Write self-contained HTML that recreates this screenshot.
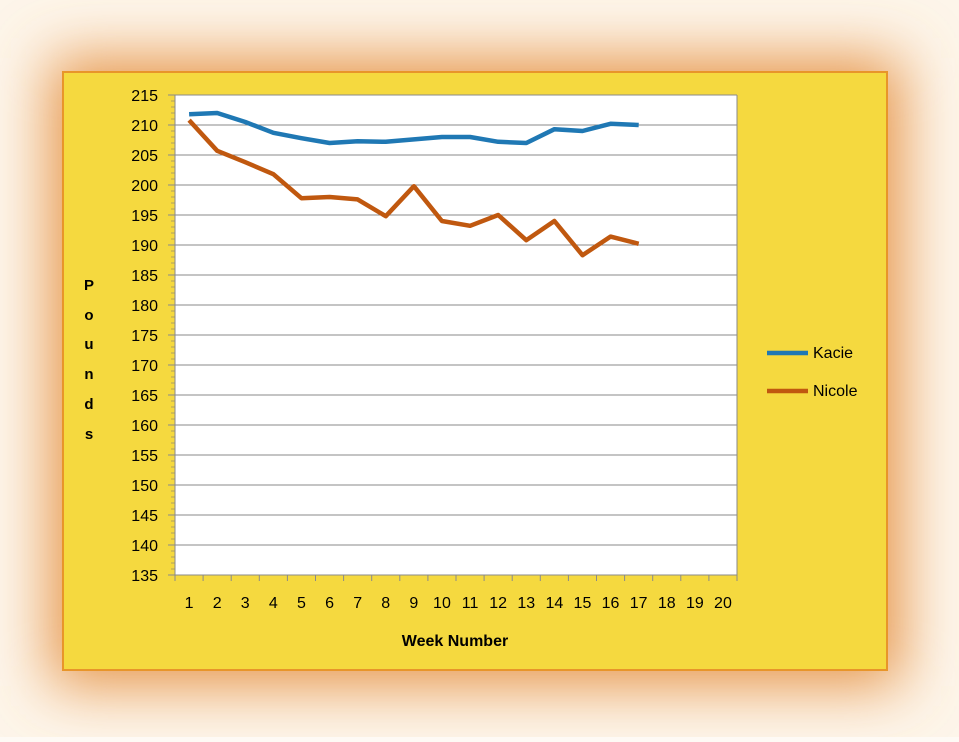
<!DOCTYPE html><html><head><style>
body{margin:0;width:959px;height:737px;background:#fefaf5;overflow:hidden;font-family:"Liberation Sans",sans-serif}
</style></head><body>
<svg width="959" height="737" xmlns="http://www.w3.org/2000/svg" font-family="Liberation Sans, sans-serif">
<defs><filter id="g" x="-30%" y="-30%" width="160%" height="160%"><feGaussianBlur stdDeviation="30"/></filter></defs>
<rect x="0" y="0" width="959" height="737" fill="#fdf5ea"/>
<rect x="50" y="58" width="852" height="628" fill="#e69548" filter="url(#g)"/>
<rect x="63" y="72" width="824" height="598" fill="#f5d93f" stroke="#e8952a" stroke-width="2"/>
<rect x="175" y="95" width="562" height="480" fill="#fff"/>
<g id="grid" stroke="#8a8a8a" stroke-width="1"></g>
<g id="lab" font-size="16" fill="#000"></g>
<polyline id="k" fill="none" stroke="#1f78b4" stroke-width="4.5" stroke-linejoin="round"/>
<polyline id="n" fill="none" stroke="#c0580f" stroke-width="4.5" stroke-linejoin="round"/>
<text x="455" y="646" font-size="16" font-weight="bold" text-anchor="middle">Week Number</text>
<g font-size="15" font-weight="bold" text-anchor="middle">
<text x="89" y="290">P</text><text x="89" y="320">o</text><text x="89" y="349">u</text><text x="89" y="379">n</text><text x="89" y="409">d</text><text x="89" y="439">s</text></g>
<line x1="767" y1="353" x2="808" y2="353" stroke="#1f78b4" stroke-width="4.5"/>
<text x="813" y="358" font-size="16">Kacie</text>
<line x1="767" y1="391" x2="808" y2="391" stroke="#c0580f" stroke-width="4.5"/>
<text x="813" y="396" font-size="16">Nicole</text>
</svg>
<script>
var ns="http://www.w3.org/2000/svg",g=document.getElementById('grid'),lb=document.getElementById('lab');
function el(p,t,a,tx){var e=document.createElementNS(ns,t);for(var k in a)e.setAttribute(k,a[k]);if(tx)e.textContent=tx;p.appendChild(e);}
function Y(v){return 575-(v-135)*6}
for(var v=135;v<=215;v+=5){var y=Y(v);if(v>135)el(g,'line',{x1:175,x2:737,y1:y,y2:y});el(g,'line',{x1:168,x2:175,y1:y,y2:y});el(lb,'text',{x:158,y:y+6,'text-anchor':'end'},v);}
for(var v=136;v<215;v++){if(v%5){var y=Y(v);el(g,'line',{x1:171,x2:175,y1:y,y2:y,stroke:'#b0a060'});}}
el(g,'line',{x1:175,x2:175,y1:95,y2:575});el(g,'line',{x1:175,x2:737,y1:575,y2:575});el(g,'line',{x1:737,x2:737,y1:95,y2:575});
var w=562/20;
for(var i=0;i<=20;i++){el(g,'line',{x1:175+i*w,x2:175+i*w,y1:575,y2:581});}
for(var i=1;i<=20;i++)el(lb,'text',{x:175+(i-.5)*w,y:608,'text-anchor':'middle'},i);
var K=[211.8,212,210.5,208.7,207.8,207,207.3,207.2,207.6,208,208,207.2,207,209.3,209,210.2,210];
var N=[210.8,205.7,203.8,201.8,197.8,198,197.6,194.8,199.8,194,193.2,195,190.8,194,188.3,191.4,190.2];
function pts(a){return a.map(function(v,i){return (175+(i+.5)*w).toFixed(1)+','+Y(v).toFixed(1)}).join(' ')}
document.getElementById('k').setAttribute('points',pts(K));
document.getElementById('n').setAttribute('points',pts(N));
</script>
</body></html>
